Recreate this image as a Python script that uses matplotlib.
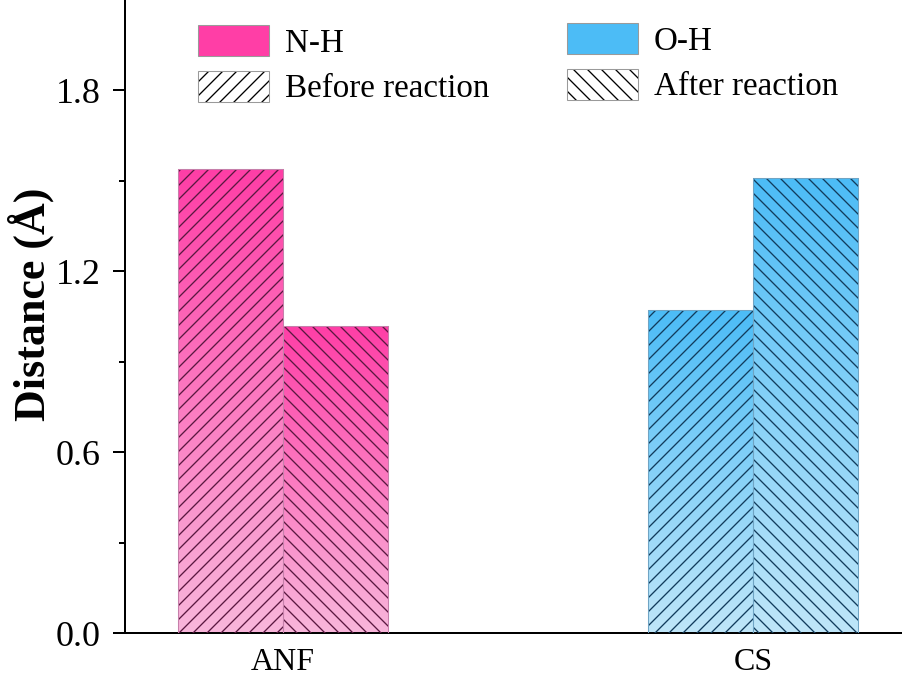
import numpy as np
import matplotlib
matplotlib.use("Agg")
import matplotlib.pyplot as plt
from matplotlib.patches import Patch
from matplotlib.colors import LinearSegmentedColormap, to_rgba

# ---- data ----
categories = ["ANF", "CS"]
before_reaction = [1.54, 1.07]   # bond distance before reaction (Å)
after_reaction = [1.02, 1.51]    # bond distance after reaction (Å)
bond_labels = ["N-H", "O-H"]

# ---- style ----
DPI = 126
W, H = 902, 681
def pt(px):
    return px * 72.0 / DPI

plt.rcParams["font.family"] = ["Liberation Serif", "DejaVu Serif"]
plt.rcParams["hatch.linewidth"] = 0.75

top_colors = ["#FF3EA6", "#4CBCF6"]
bottom_colors = ["#F8B6DB", "#BFE6F9"]
hatch_colors = ["#5A1840", "#123C5C"]
edge_colors = ["#C67FAA", "#6FA4C4"]

fig = plt.figure(figsize=(W / DPI, H / DPI), dpi=DPI)
ax = fig.add_axes([125 / W, (H - 633) / H, 1 - 125 / W, 633 / H])

x = np.arange(len(categories))
width = 0.2234

for i in range(len(categories)):
    cmap = LinearSegmentedColormap.from_list(f"grad{i}", [bottom_colors[i], top_colors[i]])
    for vals, off, hatch in ((before_reaction, -width / 2, "///"), (after_reaction, width / 2, "\\\\\\")):
        h = vals[i]
        x0 = x[i] + off - width / 2
        bar = ax.bar(x[i] + off, h, width, color="none", edgecolor="none", zorder=2)[0]
        grad = np.linspace(0, 1, 256).reshape(-1, 1)
        im = ax.imshow(grad, cmap=cmap, origin="lower", aspect="auto",
                       extent=[x0, x0 + width, 0, h], zorder=1)
        im.set_clip_path(bar)
        ax.bar(x[i] + off, h, width, color="none", edgecolor=hatch_colors[i],
               hatch=hatch, linewidth=0, zorder=3)
        ax.bar(x[i] + off, h, width, color="none", edgecolor=edge_colors[i],
               linewidth=0.6, zorder=4)

ax.set_xlim(-0.336, 1.317)
ax.set_ylim(0, 2.1)

ax.set_yticks([0.0, 0.6, 1.2, 1.8])
ax.set_yticks([0.3, 0.9, 1.5], minor=True)
ax.set_yticklabels(["0.0", "0.6", "1.2", "1.8"])
ax.set_xticks(x)
ax.set_xticklabels(categories)

ax.spines["top"].set_visible(False)
ax.spines["right"].set_visible(False)
ax.spines["left"].set_linewidth(pt(2))
ax.spines["bottom"].set_linewidth(pt(2))
ax.tick_params(axis="y", which="major", length=pt(12), width=pt(2), pad=pt(12),
               labelsize=pt(36))
ax.tick_params(axis="y", which="minor", length=pt(6), width=pt(2))
ax.tick_params(axis="x", length=0, pad=pt(15), labelsize=pt(32))

ax.set_ylabel("Distance (Å)", fontsize=pt(44), fontweight="bold")
ax.yaxis.set_label_coords((54 - 125) / (W - 125), (633 - 304) / 633)

# ---- legends ----
fs = 33
leg_kw = dict(frameon=False, fontsize=pt(fs), handlelength=71 / fs, handleheight=35 / fs,
              handletextpad=16 / fs, labelspacing=12 / fs, borderpad=0, borderaxespad=0,
              loc="upper left")
h1 = [Patch(facecolor=top_colors[0], edgecolor="#9A9A9A", linewidth=0.6, label=bond_labels[0]),
      Patch(facecolor="white", edgecolor="#9A9A9A", linewidth=0.6, label="Before reaction")]
h2 = [Patch(facecolor=top_colors[1], edgecolor="#9A9A9A", linewidth=0.6, label=bond_labels[1]),
      Patch(facecolor="white", edgecolor="#9A9A9A", linewidth=0.6, label="After reaction")]
leg1 = fig.legend(handles=h1, bbox_to_anchor=(198 / W, 1 - 25 / H), **leg_kw)
leg2 = fig.legend(handles=h2, bbox_to_anchor=(567 / W, 1 - 23 / H), **leg_kw)
for leg, hatches in ((leg1, [None, "///"]), (leg2, [None, "\\\\\\"])):
    for p, hh in zip(leg.get_patches(), hatches):
        if hh:
            p.set_hatch(hh)
            p._hatch_color = to_rgba("black")

fig.savefig("out.png", dpi=DPI)
